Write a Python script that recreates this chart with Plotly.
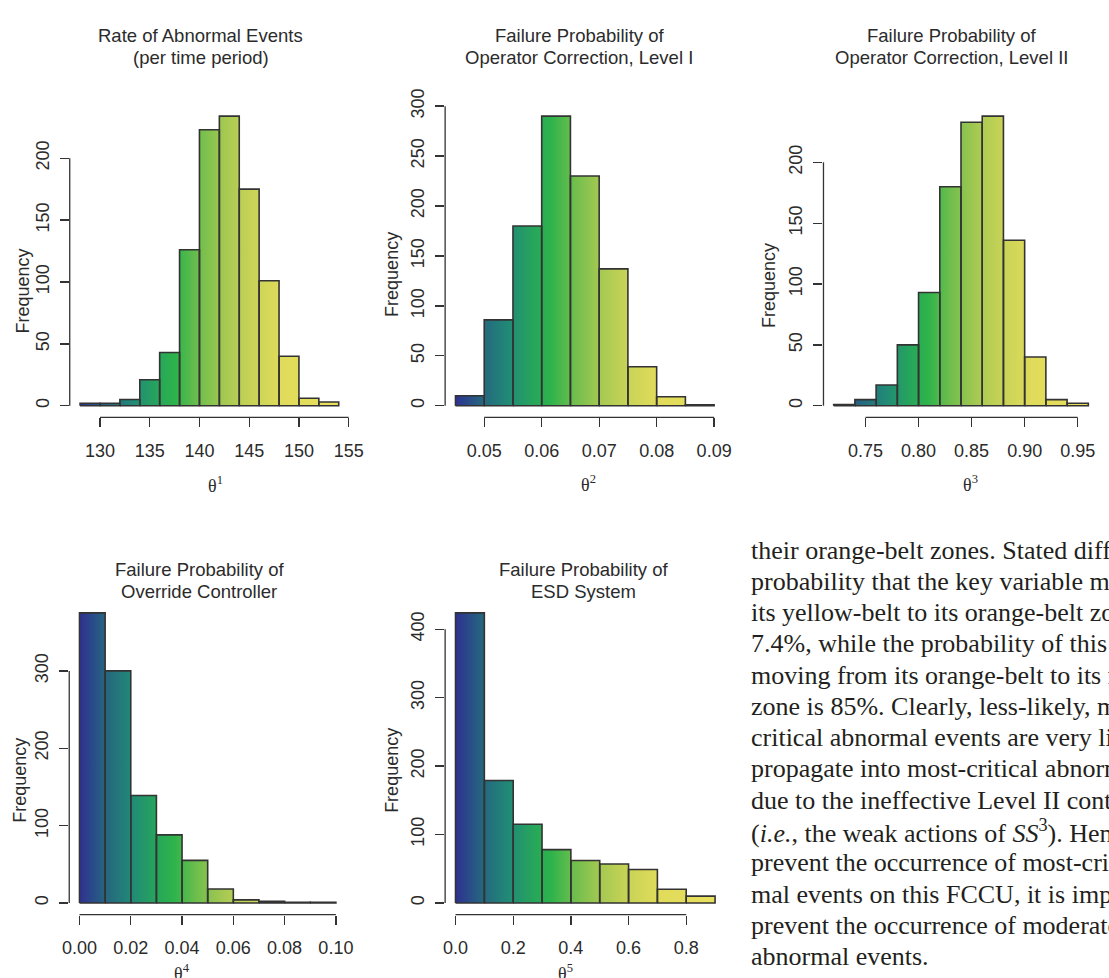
import plotly.graph_objects as go

W, H = 1109, 978

# ---------------- data ----------------
abn_breaks = [128, 130, 132, 134, 136, 138, 140, 142, 144, 146, 148, 150, 152, 154]
abn_counts = [2, 2, 5, 21, 43, 126, 223, 234, 175, 101, 40, 6, 3]
abn_xticks = [130, 135, 140, 145, 150, 155]
abn_xlabels = ["130", "135", "140", "145", "150", "155"]
abn_yticks = [0, 50, 100, 150, 200]

op1_breaks = [0.045, 0.050, 0.055, 0.060, 0.065, 0.070, 0.075, 0.080, 0.085, 0.090]
op1_counts = [10, 86, 180, 290, 230, 137, 39, 9, 1]
op1_xticks = [0.05, 0.06, 0.07, 0.08, 0.09]
op1_xlabels = ["0.05", "0.06", "0.07", "0.08", "0.09"]
op1_yticks = [0, 50, 100, 150, 200, 250, 300]

op2_breaks = [0.72, 0.74, 0.76, 0.78, 0.80, 0.82, 0.84, 0.86, 0.88, 0.90, 0.92, 0.94, 0.96]
op2_counts = [1, 5, 17, 50, 93, 180, 233, 238, 136, 40, 5, 2]
op2_xticks = [0.75, 0.80, 0.85, 0.90, 0.95]
op2_xlabels = ["0.75", "0.80", "0.85", "0.90", "0.95"]
op2_yticks = [0, 50, 100, 150, 200]

ovr_breaks = [0.00, 0.01, 0.02, 0.03, 0.04, 0.05, 0.06, 0.07, 0.08, 0.09, 0.10]
ovr_counts = [375, 300, 139, 88, 55, 18, 4, 2, 1, 1]
ovr_xticks = [0.00, 0.02, 0.04, 0.06, 0.08, 0.10]
ovr_xlabels = ["0.00", "0.02", "0.04", "0.06", "0.08", "0.10"]
ovr_yticks = [0, 100, 200, 300]

esd_breaks = [0.0, 0.1, 0.2, 0.3, 0.4, 0.5, 0.6, 0.7, 0.8, 0.9]
esd_counts = [424, 179, 115, 78, 62, 57, 49, 20, 10]
esd_xticks = [0.0, 0.2, 0.4, 0.6, 0.8]
esd_xlabels = ["0.0", "0.2", "0.4", "0.6", "0.8"]
esd_yticks = [0, 100, 200, 300, 400]

titles = [
    ["Rate of Abnormal Events", "(per time period)"],
    ["Failure Probability of", "Operator Correction, Level I"],
    ["Failure Probability of", "Operator Correction, Level II"],
    ["Failure Probability of", "Override Controller"],
    ["Failure Probability of", "ESD System"],
]
xlabels = ["θ<sup>1</sup>", "θ<sup>2</sup>", "θ<sup>3</sup>", "θ<sup>4</sup>", "θ<sup>5</sup>"]
ylabel = "Frequency"

body_lines = [
    "their orange-belt zones. Stated differently, the",
    "probability that the key variable moves from",
    "its yellow-belt to its orange-belt zone is",
    "7.4%, while the probability of this variable",
    "moving from its orange-belt to its red-belt",
    "zone is 85%. Clearly, less-likely, moderately-",
    "critical abnormal events are very likely to",
    "propagate into most-critical abnormal events",
    "due to the ineffective Level II control",
    "(<i>i.e.</i>, the weak actions of <i>SS</i><sup>3</sup>). Hence, to",
    "prevent the occurrence of most-critical abnor-",
    "mal events on this FCCU, it is important to",
    "prevent the occurrence of moderately-critical",
    "abnormal events.",
]

# ---------------- styling / layout ----------------
COLORSCALE = [
    [0.00, "#2e3192"], [0.10, "#25667f"], [0.20, "#218a76"], [0.30, "#27a75a"],
    [0.36, "#2db34b"], [0.45, "#70be4d"], [0.55, "#a6c952"], [0.65, "#c8d357"],
    [0.76, "#e0db5a"], [1.00, "#e9e05e"],
]
SANS = "Liberation Sans, Arial, Helvetica, sans-serif"
SERIF = "Liberation Serif, Times New Roman, serif"
TXT = "#2b2b2b"
EDGE = "#333333"

# pixel boxes (left, right, top, bottom) of each plot region
boxes = [
    (64, 349, 90, 408),
    (447, 732, 90, 408),
    (833, 1113.6, 90, 408),
    (63.5, 346, 595, 913.5),
    (447, 733, 595, 913.5),
]
title_pos = [(197.5, 20, 42), (584, 20, 42), (964, 20, 42), (196, 563, 585.5), (588, 563, 585.5)]
xlab_pos = [(213, 476), (593.5, 475), (983, 475), (179, 972), (569.5, 972)]
ylab_pos = [(16.5, 280), (393.5, 262.5), (777, 274), (13, 776.7), (392.5, 766.7)]

panels = [
    (abn_breaks, abn_counts, abn_xticks, abn_xlabels, abn_yticks),
    (op1_breaks, op1_counts, op1_xticks, op1_xlabels, op1_yticks),
    (op2_breaks, op2_counts, op2_xticks, op2_xlabels, op2_yticks),
    (ovr_breaks, ovr_counts, ovr_xticks, ovr_xlabels, ovr_yticks),
    (esd_breaks, esd_counts, esd_xticks, esd_xlabels, esd_yticks),
]

fig = go.Figure()
shapes = []
annotations = []
layout_axes = {}

for i, (breaks, counts, xt, xtl, yt) in enumerate(panels):
    n = i + 1
    s = "" if n == 1 else str(n)
    xa, ya = "x" + s, "y" + s
    left, right, top, bottom = boxes[i]

    # R-style 4% range extension
    span = breaks[-1] - breaks[0]
    x0 = breaks[0] - 0.04 * span
    x1 = breaks[-1] + 0.04 * span
    ymax = max(counts)
    y0, y1 = -0.04 * ymax, 1.04 * ymax
    vis_right = min(right, W)
    ppu = (right - left) / (x1 - x0)
    x1_vis = x0 + (vis_right - left) / ppu

    # gradient-filled histogram silhouette
    xs, ys = [breaks[0]], [0]
    for k, c in enumerate(counts):
        xs += [breaks[k], breaks[k + 1]]
        ys += [c, c]
    xs.append(breaks[-1])
    ys.append(0)
    fig.add_trace(go.Scatter(
        x=xs, y=ys, mode="lines", line=dict(width=0, color="rgba(0,0,0,0)"),
        fill="toself",
        fillgradient=dict(type="horizontal", colorscale=COLORSCALE,
                          start=breaks[0], stop=breaks[-1]),
        xaxis=xa, yaxis=ya, hoverinfo="skip", showlegend=False,
    ))
    # bar outlines (one closed rectangle per bin)
    ox, oy = [], []
    for k, c in enumerate(counts):
        ox += [breaks[k], breaks[k], breaks[k + 1], breaks[k + 1], breaks[k], None]
        oy += [0, c, c, 0, 0, None]
    fig.add_trace(go.Scatter(
        x=ox, y=oy, mode="lines", line=dict(color=EDGE, width=1.6),
        connectgaps=False, xaxis=xa, yaxis=ya, hoverinfo="skip", showlegend=False,
    ))

    tickfont = dict(family=SANS, size=18, color=TXT)
    layout_axes["xaxis" + s] = dict(
        domain=[left / W, vis_right / W], range=[x0, x1_vis], anchor=ya,
        tickvals=xt, ticktext=xtl, ticks="outside", ticklen=9, tickwidth=1.3,
        tickcolor=EDGE, showgrid=False, zeroline=False, showline=False,
        tickfont=tickfont, ticklabelstandoff=8, fixedrange=True,
    )
    layout_axes["yaxis" + s] = dict(
        domain=[1 - bottom / H, 1 - top / H], range=[y0, y1], anchor=xa,
        tickvals=yt, ticktext=[str(v) for v in yt], ticks="outside", ticklen=9,
        tickwidth=1.3, tickcolor=EDGE, showgrid=False, zeroline=False,
        showline=False, tickangle=-90, tickfont=tickfont, ticklabelstandoff=4,
        fixedrange=True,
    )

    # R-style axis lines spanning first..last tick
    shapes.append(dict(type="line", xref=xa, yref=ya + " domain",
                       x0=xt[0], x1=xt[-1], y0=0, y1=0,
                       line=dict(color=EDGE, width=1.3)))
    shapes.append(dict(type="line", xref=xa + " domain", yref=ya,
                       x0=0, x1=0, y0=yt[0], y1=yt[-1],
                       line=dict(color=EDGE, width=1.3)))

    # titles
    tx, ty1, ty2 = title_pos[i]
    for line_text, ty in zip(titles[i], (ty1, ty2)):
        annotations.append(dict(
            text=line_text, xref="paper", yref="paper", x=tx / W, y=1 - ty / H,
            xanchor="center", yanchor="middle", showarrow=False,
            font=dict(family=SANS, size=18.5, color=TXT)))
    # x label
    lx, ly = xlab_pos[i]
    annotations.append(dict(
        text=xlabels[i], xref="paper", yref="paper", x=lx / W, y=1 - ly / H,
        xanchor="center", yanchor="middle", showarrow=False,
        font=dict(family=SERIF, size=18, color=TXT)))
    # y label
    qx, qy = ylab_pos[i]
    annotations.append(dict(
        text=ylabel, xref="paper", yref="paper", x=qx / W, y=1 - qy / H,
        xanchor="center", yanchor="middle", showarrow=False, textangle=-90,
        font=dict(family=SANS, size=18, color=TXT)))

# body text block (page text beside the figure)
first_baseline = 551.7
line_step = 31.8
for k, line_text in enumerate(body_lines):
    base = first_baseline + k * line_step
    annotations.append(dict(
        text=line_text, xref="paper", yref="paper", x=757 / W,
        y=1 - (base - 8.8) / H, xanchor="left", yanchor="middle",
        showarrow=False, align="left",
        font=dict(family=SERIF, size=26, color="#231f20")))

fig.update_layout(
    width=W, height=H, margin=dict(l=0, r=0, t=0, b=0),
    paper_bgcolor="white", plot_bgcolor="white",
    showlegend=False, hovermode=False,
    shapes=shapes, annotations=annotations, **layout_axes,
)

fig.write_html("out.html", config={"displayModeBar": False, "staticPlot": True},
               post_script="document.body.style.margin='0';document.body.style.overflow='hidden';")
